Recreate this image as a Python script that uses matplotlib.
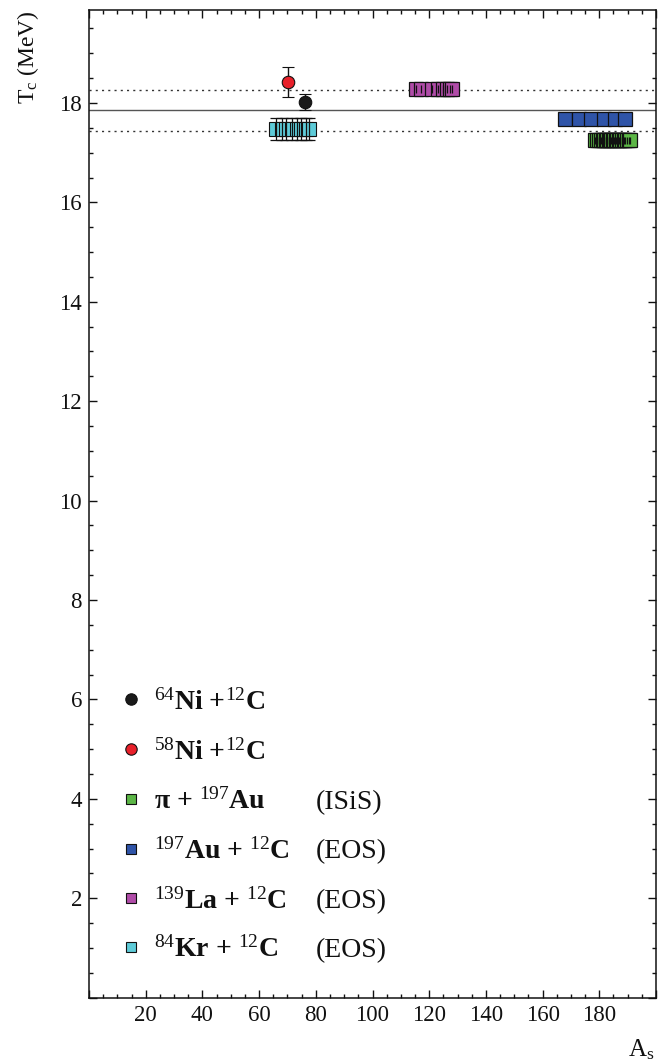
import matplotlib
matplotlib.use("Agg")
import matplotlib.pyplot as plt
import numpy as np

plt.rcParams['font.family'] = ['Liberation Serif', 'DejaVu Serif']
plt.rcParams['mathtext.fontset'] = 'custom'
plt.rcParams['mathtext.rm'] = 'Liberation Serif'
plt.rcParams['mathtext.it'] = 'Liberation Serif:italic'
plt.rcParams['mathtext.bf'] = 'Liberation Serif:bold'

# ---- data ----
ni64_x = [76.2]
ni64_y = [18.02]
ni64_err = [0.17]

ni58_x = [70.3]
ni58_y = [18.42]
ni58_err = [0.31]

kr_x = [65.9, 68.2, 69.5, 71.5, 73.3, 74.8, 76.4, 77.6]
kr_y = [17.48, 17.48, 17.48, 17.48, 17.48, 17.48, 17.48, 17.48]
kr_err = [0.22, 0.22, 0.22, 0.22, 0.22, 0.22, 0.22, 0.22]

la_x = [115.4, 117.1, 120.9, 123.2, 125.0, 126.2, 127.3, 128.2]
la_y = [18.28, 18.28, 18.28, 18.28, 18.28, 18.28, 18.28, 18.28]
la_err = [0.08, 0.08, 0.08, 0.08, 0.08, 0.08, 0.08, 0.08]

au_x = [168.0, 172.8, 177.2, 181.5, 185.6, 188.9]
au_y = [17.67, 17.67, 17.67, 17.67, 17.67, 17.67]
au_err = [0.07, 0.07, 0.07, 0.07, 0.07, 0.07]

pi_x = [178.5, 179.2, 180.0, 180.6, 181.2, 181.8, 182.3, 182.8, 183.3, 183.8,
        184.3, 184.8, 185.3, 185.8, 186.3, 186.8, 187.4, 188.0, 188.6, 189.2,
        189.8, 190.4, 191.0]
pi_y = [17.25] * len(pi_x)
pi_err = [0.07] * len(pi_x)

tc_mean = 17.86
tc_upper = 18.27
tc_lower = 17.44

x_ticks = [20, 40, 60, 80, 100, 120, 140, 160, 180]
y_ticks = [2, 4, 6, 8, 10, 12, 14, 16, 18]

legend_labels = [r"$^{64}$Ni +$^{12}$C", r"$^{58}$Ni +$^{12}$C", r"π + $^{197}$Au",
                 r"$^{197}$Au + $^{12}$C", r"$^{139}$La + $^{12}$C", r"$^{84}$Kr + $^{12}$C"]
legend_notes = ["", "", "(ISiS)", "(EOS)", "(EOS)", "(EOS)"]
legend_rows = [6.0, 5.0, 4.0, 3.0, 2.0, 1.02]

c_black = '#1a1a1a'
c_red = '#e8202a'
c_green = '#5cb646'
c_blue = '#2f54a8'
c_mag = '#b04ca8'
c_cyan = '#5ecbd8'

fig = plt.figure(figsize=(6.68, 10.61), dpi=100)
ax = fig.add_axes([89/668, 1 - 997.7/1061, (656-89)/668, (997.7-10)/1061])
ax.set_xlim(0, 200)
ax.set_ylim(0, 19.87)

# reference lines
ax.axhline(tc_mean, color='#555555', lw=1.0, zorder=1)
ax.axhline(tc_upper, color='#333333', lw=1.0, ls=(0, (1.5, 3)), zorder=1)
ax.axhline(tc_lower, color='#333333', lw=1.0, ls=(0, (1.5, 3)), zorder=1)

msq = 9.6
# cyan: error bars with caps over markers
ax.plot(kr_x, kr_y, 's', ms=msq, mfc=c_cyan, mec='#111111', mew=0.8, ls='none', zorder=3)
ax.errorbar(kr_x, kr_y, yerr=kr_err, fmt='none', ecolor='#111111', elinewidth=0.9,
            capsize=4.3, capthick=0.9, zorder=4)
# other squares: short error bars (blue hidden under markers)
for xs, ys, es, col, ez in [(la_x, la_y, la_err, c_mag, 4), (au_x, au_y, au_err, c_blue, 2),
                            (pi_x, pi_y, pi_err, c_green, 4)]:
    ax.plot(xs, ys, 's', ms=msq, mfc=col, mec='#111111', mew=0.9, ls='none', zorder=3)
    ax.errorbar(xs, ys, yerr=es, fmt='none', ecolor='#111111', elinewidth=0.9,
                capsize=0, zorder=ez)

# circles
ax.errorbar(ni58_x, ni58_y, yerr=ni58_err, fmt='o', ms=9, mfc=c_red, mec='#111111',
            mew=0.8, ecolor='#111111', elinewidth=1.0, capsize=4.5, capthick=1.0, zorder=5)
ax.errorbar(ni64_x, ni64_y, yerr=ni64_err, fmt='o', ms=9, mfc=c_black, mec='#111111',
            mew=0.8, ecolor='#111111', elinewidth=1.0, capsize=4.5, capthick=1.0, zorder=5)

# ticks
ax.set_xticks(np.arange(0, 201, 20))
ax.set_xticklabels(['' if v not in x_ticks else str(v) for v in range(0, 201, 20)])
ax.set_xticks(np.arange(0, 201, 5), minor=True)
ax.set_yticks(np.arange(0, 20, 2))
ax.set_yticklabels(['' if v not in y_ticks else str(v) for v in range(0, 20, 2)])
ax.set_yticks(np.arange(0, 19.9, 0.5), minor=True)
ax.tick_params(which='both', direction='in', top=True, right=True, labelsize=16.5,
               width=1.0, colors='#111111')
ax.tick_params(which='major', length=6)
ax.tick_params(which='minor', length=3.2)
ax.tick_params(axis='x', which='major', pad=5)
ax.tick_params(axis='y', which='major', pad=5)
for s in ax.spines.values():
    s.set_linewidth(1.1)
    s.set_color('#111111')

# legend (manual)
leg_styles = [('o', c_black, 8.2), ('o', c_red, 8.2), ('s', c_green, 7.8),
              ('s', c_blue, 7.8), ('s', c_mag, 7.8), ('s', c_cyan, 7.8)]
for (mk, col, ms), lab, note, ry in zip(leg_styles, legend_labels, legend_notes, legend_rows):
    ax.plot([14.8], [ry], mk, ms=ms, mfc=col, mec='#111111', mew=0.8, clip_on=False)
    ax.text(23.0, ry - 0.2, lab, fontsize=20, fontweight='bold', ha='left', va='baseline',
            color='#111111')
    if note:
        ax.text(80.0, ry - 0.2, note, fontsize=20, ha='left', va='baseline', color='#111111')

fig.text(28/668, 1 - 10/1061, r"T$_{\rm c}$ (MeV)", rotation=90, ha='center', va='top',
         fontsize=17, color='#111111')
fig.text(628/668, 1 - 1056/1061, r"A$_{\rm s}$", ha='left', va='baseline', fontsize=18,
         color='#111111')

fig.savefig('out.png', dpi=100)
